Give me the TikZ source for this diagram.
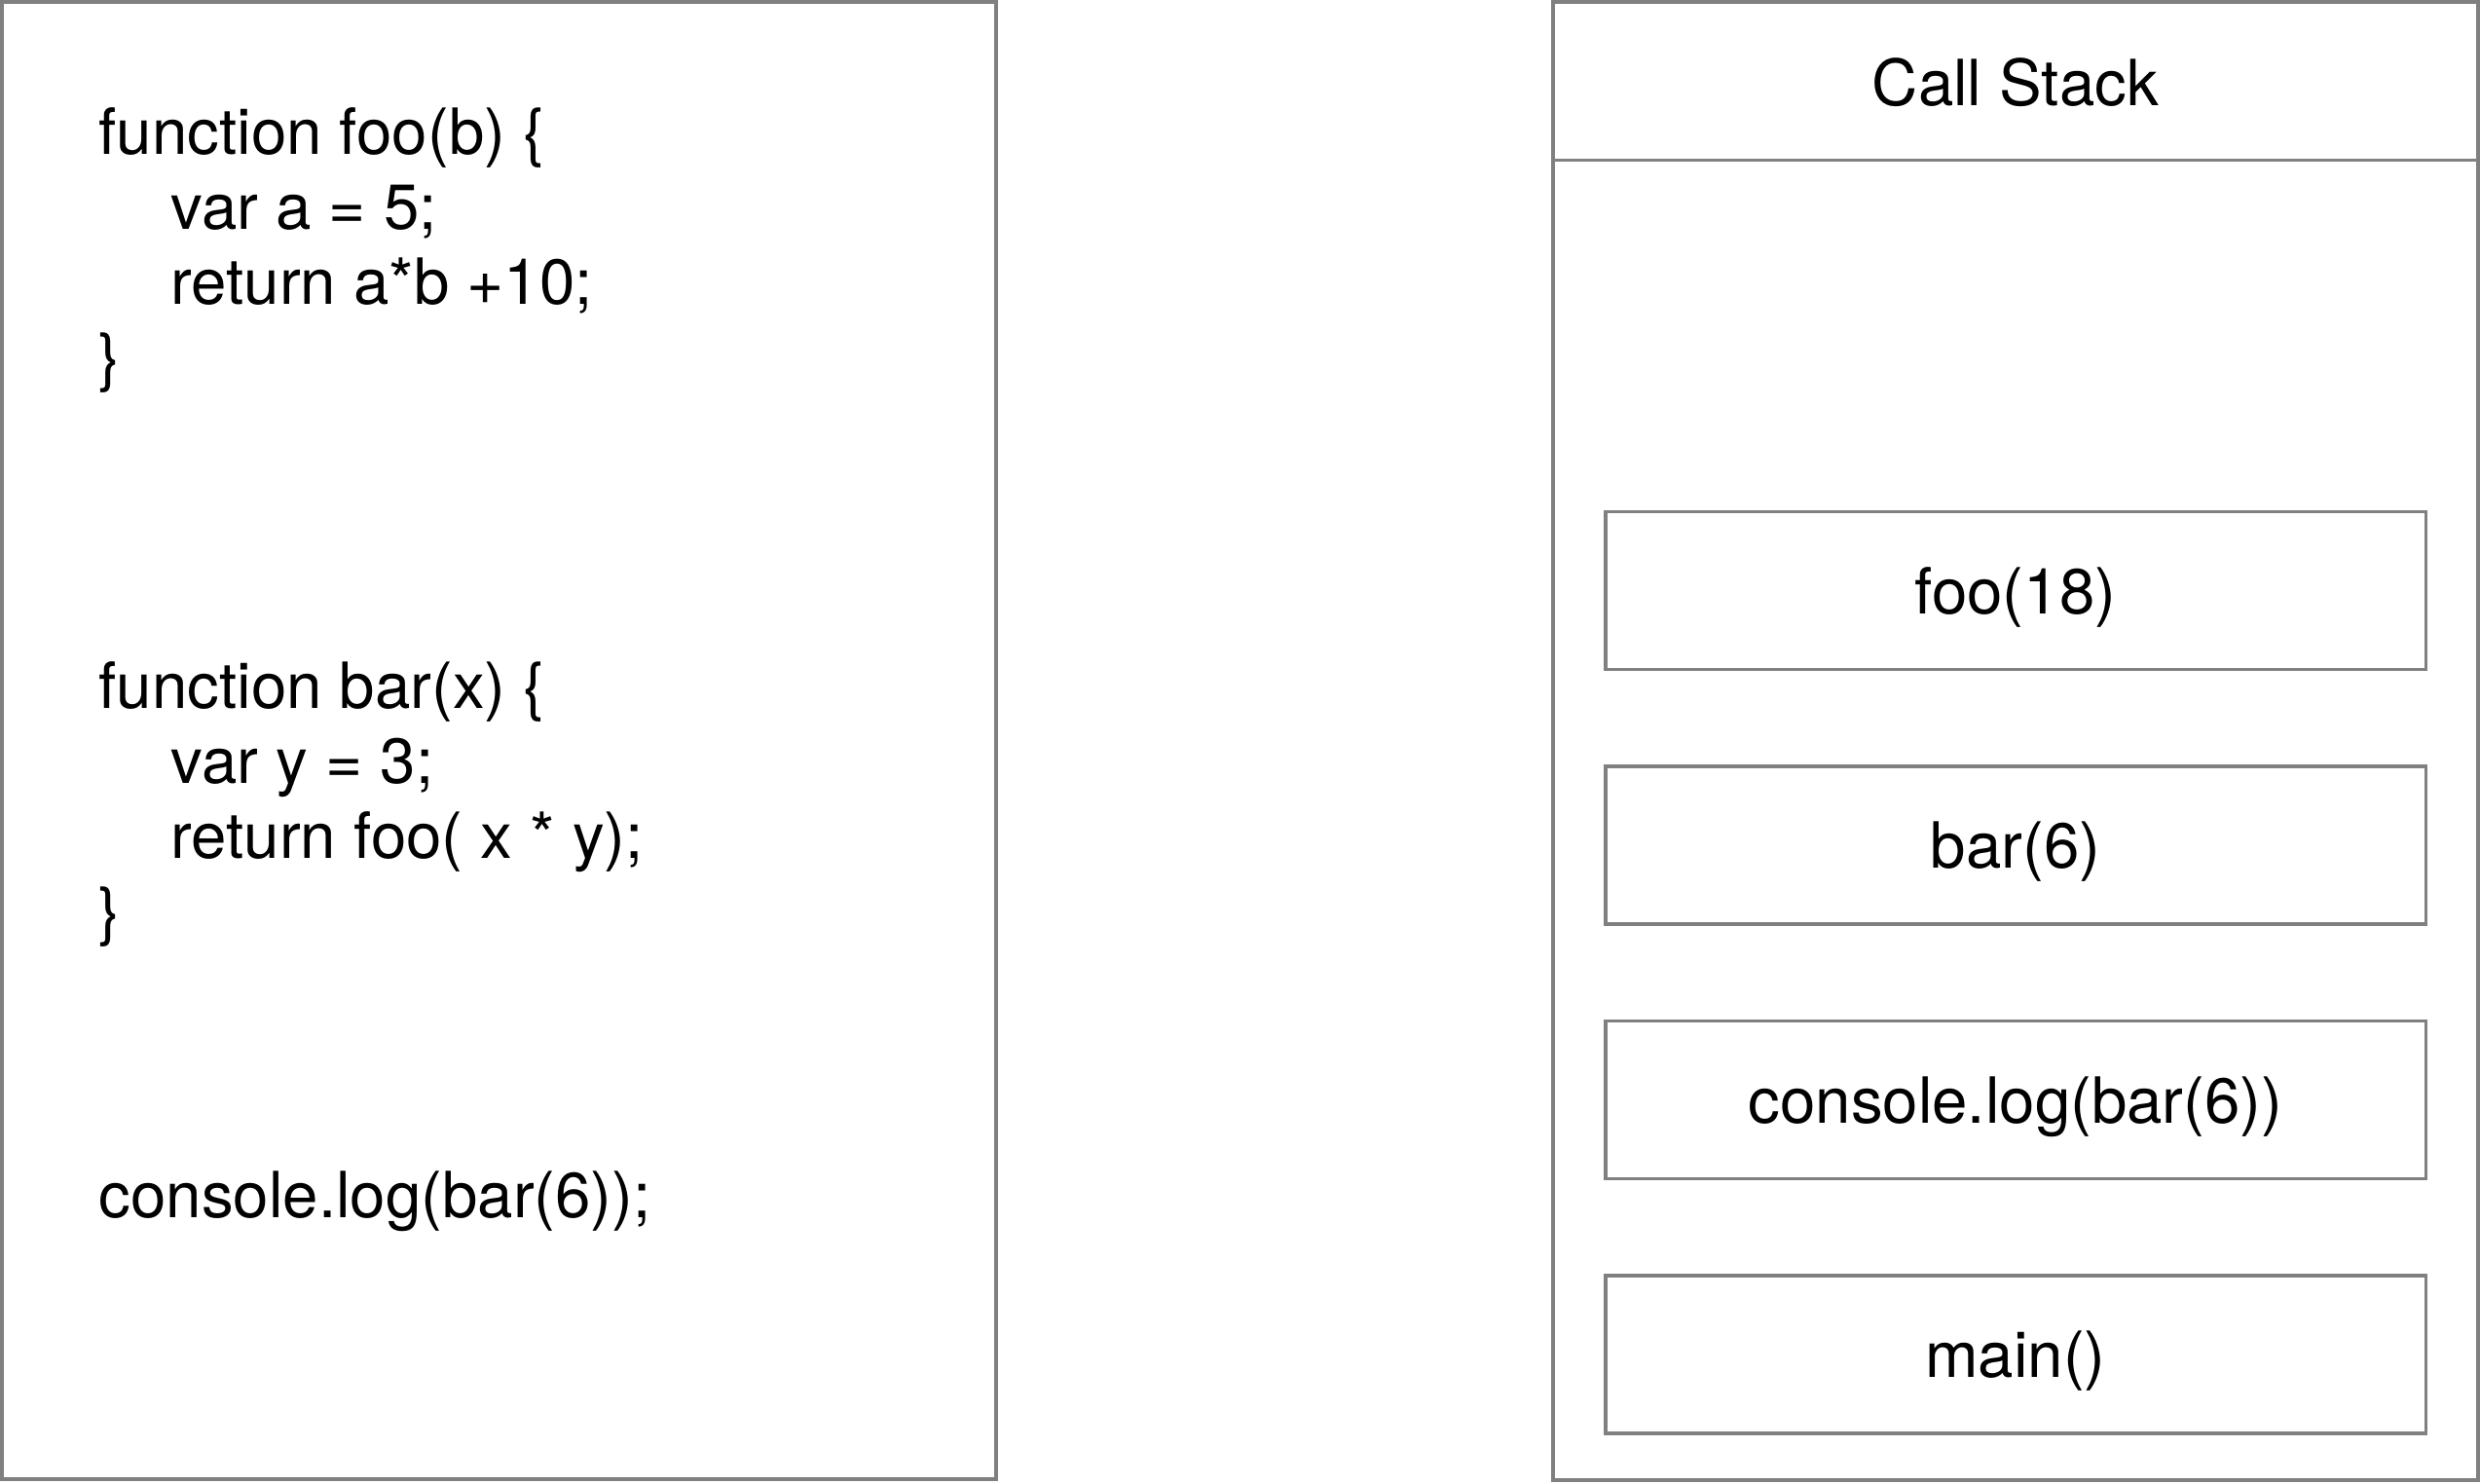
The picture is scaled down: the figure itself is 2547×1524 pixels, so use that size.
\documentclass[tikz,border=0pt]{standalone}
\usepackage{fontspec}
\setmainfont{TeX Gyre Heros}
\definecolor{CSgray}{RGB}{128,128,128}

\begin{document}
\begin{tikzpicture}[x=0.01cm, y=-0.01cm,
	panel/.style={draw=CSgray, line width=1pt},
	frame/.style={draw=CSgray, line width=1pt, minimum width=8.42cm, minimum height=1.62cm, inner sep=0, text depth=0pt},
	codeline/.style={anchor=base west, inner sep=0},
	every node/.style={font=\fontsize{18.6}{22}\selectfont}
	]
	\useasboundingbox (0,0) rectangle (2547,1524);

	% source code
	\draw [panel] (2,2) rectangle (1023,1519);

	\node (foohead) at (101,158) [codeline] {function foo(b) \{};
	\node (foovar) at (175,235) [codeline] {var a = 5;};
	\node (fooret) at (175,312) [codeline] {return a*b +10;};
	\node (fooend) at (101,389) [codeline] {\}};

	\node (barhead) at (101,727) [codeline] {function bar(x) \{};
	\node (barvar) at (175,804) [codeline] {var y = 3;};
	\node (barret) at (175,881) [codeline] {return foo( x * y);};
	\node (barend) at (101,958) [codeline] {\}};

	\node (logcall) at (101,1250) [codeline] {console.log(bar(6));};

	% call stack
	\draw [panel] (1595,2) rectangle (2545,1520);
	\coordinate (hl) at (1595,164.5);
	\coordinate (hr) at (2545,164.5);
	\draw [panel] (hl) -- (hr);
	\node (title) at (2070,85) {Call Stack};

	\node (sfoo) at (2070,606.5) [frame] {foo(18)};
	\node (sbar) at (2070,868) [frame] {bar(6)};
	\node (slog) at (2070,1129.5) [frame] {console.log(bar(6))};
	\node (smain) at (2070,1391) [frame] {main()};
\end{tikzpicture}
\end{document}
